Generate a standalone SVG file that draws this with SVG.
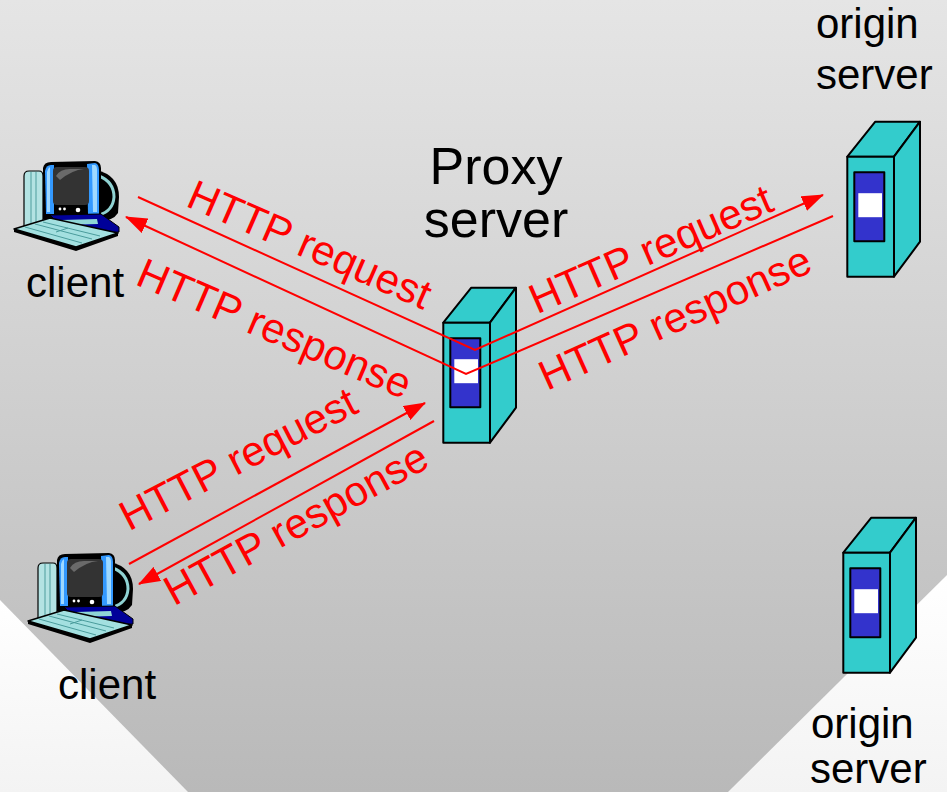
<svg xmlns="http://www.w3.org/2000/svg" xmlns:xlink="http://www.w3.org/1999/xlink" width="947" height="792" viewBox="0 0 947 792">
<style>
.lbl{font-family:"Liberation Sans",Arial,sans-serif;fill:#000;}
.red{font-family:"Liberation Sans",Arial,sans-serif;fill:#ff0000;font-size:42px;}
.conn{fill:none;stroke:#ff0000;stroke-width:2;}
.srv{stroke:#000;stroke-width:2;stroke-linejoin:round;}
</style>
<defs>
<linearGradient id="bg" x1="0" y1="0" x2="0" y2="1">
<stop offset="0" stop-color="#e5e5e5"/>
<stop offset="1" stop-color="#b9b9b9"/>
</linearGradient>
<linearGradient id="wh" x1="0" y1="0" x2="0" y2="1">
<stop offset="0" stop-color="#ffffff"/>
<stop offset="1" stop-color="#f3f3f3"/>
</linearGradient>
<marker id="arr" viewBox="0 0 22 16" refX="21" refY="8" markerWidth="22" markerHeight="16" markerUnits="userSpaceOnUse" orient="auto">
<path d="M0,0 L22,8 L0,16 Z" fill="#ff0000"/>
</marker>
<g id="server">
<polygon class="srv" points="0,0 28,-35 72.7,-35 46.7,0" fill="#33cccc"/>
<polygon class="srv" points="46.7,0 72.7,-35 72.7,85 46.7,120" fill="#33cccc"/>
<rect class="srv" x="0" y="0" width="46.7" height="120" fill="#33cccc"/>
<rect class="srv" x="7" y="15.5" width="30" height="69" fill="#3333cc"/>
<rect x="11" y="36.5" width="23.7" height="24" fill="#ffffff"/>
</g>
<g id="computer">
<path d="M24,176 Q24,171 29,171 L39,171 Q43,171 43,176 L43,232 L24,232 Z" fill="#b3e3e3" stroke="#000" stroke-width="1.2"/>
<line x1="31" y1="172" x2="31" y2="231" stroke="#6fb4b4" stroke-width="1.5"/>
<line x1="36" y1="172" x2="36" y2="231" stroke="#6fb4b4" stroke-width="1.5"/>
<path d="M96,170 Q119,175 119,197 L118,213 Q113,221 99,221 Z" fill="#000"/>
<path d="M99,176 Q114,182 114,197 Q113,211 99,215" fill="none" stroke="#8fd2d2" stroke-width="3"/>
<path d="M43,168 Q44,162 51,162 L95,161 Q101,162 101,168 L101,219 L43,219 Z" fill="#000"/>
<path d="M45,171 Q46,165 51,165 L54,165 L54,214 L46,214 Z" fill="#3399ff"/>
<path d="M47,172 Q48,168 50,167 L50,212 L47,212 Z" fill="#9fd9ff"/>
<path d="M87,164 L95,163 Q99,164 99,170 L99,214 L88,214 Z" fill="#3399ff"/>
<path d="M92,165 L95,165 Q97,166 97,170 L97,212 L93,212 Z" fill="#9fd9ff"/>
<path d="M53,171 Q53,167 57,167 L85,167 Q89,167 89,171 L89,201 Q89,205 85,205 L57,205 Q53,205 53,201 Z" fill="#333333"/>
<path d="M56,176 Q60,169 70,169 L84,169 Q72,170 60,180 Z" fill="#6a6a6a"/>
<circle cx="60" cy="209" r="1.4" fill="#fff"/>
<circle cx="64.5" cy="209" r="1.4" fill="#fff"/>
<circle cx="78" cy="210" r="2.3" fill="#fff"/>
<path d="M50,215 L101,214 L119,227 L119,232 L70,235 Z" fill="#000099" stroke="#000" stroke-width="1"/>
<path d="M62,220 L97,219 L98,224 L63,225 Z" fill="#8fd6d6"/>
<path d="M14,229 L76,247 L118,233 L118,236 L76,251 L14,232 Z" fill="#000"/>
<path d="M14,229 L50,218 L118,233 L76,247 Z" fill="#a3e0e0" stroke="#000" stroke-width="1.5" stroke-linejoin="round"/>
<path d="M25,227 L82,243 M35,224 L92,239 M43,222 L100,236 M56,232 L68,228" fill="none" stroke="#4a9c9c" stroke-width="1"/>
</g>
</defs>

<rect x="0" y="0" width="947" height="792" fill="url(#bg)"/>
<polygon points="0,600 0,792 188,792" fill="url(#wh)"/>
<polygon points="947,575 947,792 728,792" fill="url(#wh)"/>

<g id="client1">
<use xlink:href="#computer"/>
<text class="lbl" x="26" y="297" font-size="42">client</text>
</g>

<g id="client2">
<use xlink:href="#computer" transform="translate(14,392)"/>
<text class="lbl" x="58" y="699" font-size="42">client</text>
</g>

<g id="proxy">
<use xlink:href="#server" transform="translate(443.3,322.7)"/>
<text class="lbl" x="496" y="184" font-size="52" text-anchor="middle">Proxy</text>
<text class="lbl" x="496" y="237" font-size="52" text-anchor="middle">server</text>
</g>

<g id="origin1">
<use xlink:href="#server" transform="translate(847.3,156.7)"/>
<text class="lbl" x="816" y="38" font-size="42">origin</text>
<text class="lbl" x="816" y="89" font-size="42">server</text>
</g>

<g id="origin2">
<use xlink:href="#server" transform="translate(843.3,552.7)"/>
<text class="lbl" x="811" y="738" font-size="42">origin</text>
<text class="lbl" x="810" y="783" font-size="42">server</text>
</g>

<g id="connectors">
<polyline class="conn" points="138,197 475,350 823,195" marker-end="url(#arr)"/>
<polyline class="conn" points="833,216 466,374 126,217" marker-end="url(#arr)"/>
<line class="conn" x1="129" y1="564" x2="425" y2="403" marker-end="url(#arr)"/>
<line class="conn" x1="434" y1="421" x2="139" y2="584" marker-end="url(#arr)"/>
<text class="red" transform="translate(184.5,205.5) rotate(23.6)">HTTP request</text>
<text class="red" transform="translate(134,284) rotate(23.2)">HTTP response</text>
<text class="red" transform="translate(537,314.5) rotate(-23.6)">HTTP request</text>
<text class="red" transform="translate(547,391) rotate(-24.2)">HTTP response</text>
<text class="red" transform="translate(129,531.5) rotate(-27.4)">HTTP request</text>
<text class="red" transform="translate(174,606.5) rotate(-28.6)">HTTP response</text>
</g>
</svg>
